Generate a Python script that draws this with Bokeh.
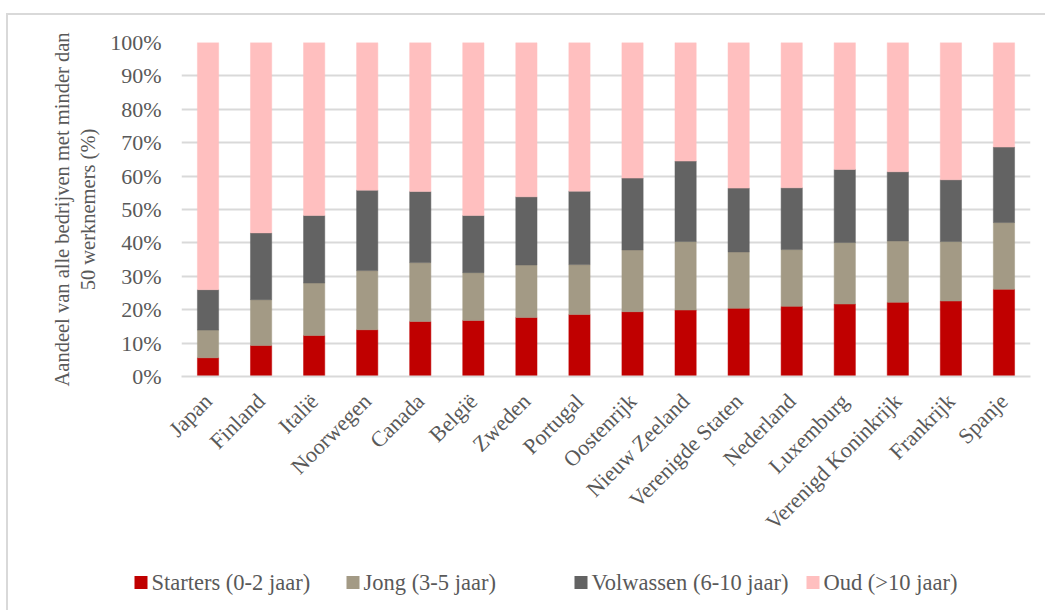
import math
from bokeh.plotting import figure
from bokeh.models import (ColumnDataSource, FactorRange, Range1d, PrintfTickFormatter, FixedTicker)
from bokeh.core.properties import value
from bokeh.embed import file_html
from bokeh.resources import INLINE

countries = ["Japan", "Finland", "Italië", "Noorwegen", "Canada", "België", "Zweden",
             "Portugal", "Oostenrijk", "Nieuw Zeeland", "Verenigde Staten", "Nederland",
             "Luxemburg", "Verenigd Koninkrijk", "Frankrijk", "Spanje"]
starters = [5.6, 9.3, 12.3, 14.0, 16.5, 16.8, 17.7, 18.6, 19.4, 19.9, 20.4, 21.0, 21.7, 22.2, 22.6, 26.1]
jong = [8.3, 13.7, 15.7, 17.7, 17.6, 14.3, 15.7, 14.9, 18.5, 20.5, 16.9, 17.0, 18.4, 18.4, 17.8, 20.0]
volwassen = [12.1, 20.0, 20.2, 24.1, 21.3, 17.1, 20.4, 22.0, 21.5, 24.1, 19.1, 18.5, 21.9, 20.7, 18.5, 22.6]
oud = [round(100 - s - j - v, 1) for s, j, v in zip(starters, jong, volwassen)]

series = ["starters", "jong", "volwassen", "oud"]
labels = ["Starters (0-2 jaar)", "Jong (3-5 jaar)", "Volwassen (6-10 jaar)", "Oud (>10 jaar)"]
colors = ["#C00000", "#A39A85", "#636363", "#FFBFBF"]

source = ColumnDataSource(dict(country=countries, starters=starters, jong=jong,
                               volwassen=volwassen, oud=oud))

FONT = "Liberation Serif"
TXT = "#595959"
BORDER = "2px solid #d9d9d9"

p = figure(x_range=FactorRange(factors=countries), y_range=Range1d(0, 100),
           width=1039, height=537, output_backend="svg", toolbar_location=None,
           min_border_left=173, min_border_right=17, min_border_top=27, min_border_bottom=176)
p.styles = {"margin-left": "6px", "margin-top": "13px", "border-left": BORDER, "border-top": BORDER}
p.outline_line_color = None
p.background_fill_color = "white"

renderers = p.vbar_stack(series, x="country", width=0.4, color=colors, line_color=colors,
                         line_width=0.5, source=source)

p.xgrid.grid_line_color = None
p.ygrid.grid_line_color = "#d9d9d9"
p.ygrid.grid_line_width = 2
p.yaxis.ticker = FixedTicker(ticks=list(range(0, 101, 10)))
p.yaxis.formatter = PrintfTickFormatter(format="%d%%")
p.yaxis.axis_line_color = None
p.yaxis.major_tick_line_color = None
p.yaxis.minor_tick_line_color = None
p.yaxis.major_label_standoff = 14
p.yaxis.axis_label = "Aandeel van alle bedrijven met minder dan\n50 werknemers (%)"
p.yaxis.axis_label_text_font = FONT
p.yaxis.axis_label_text_font_style = "normal"
p.yaxis.axis_label_text_font_size = "20.5px"
p.yaxis.axis_label_text_color = TXT
p.yaxis.axis_label_standoff = 8

p.xaxis.axis_line_color = "#d9d9d9"
p.xaxis.axis_line_width = 2
p.xaxis.major_tick_line_color = None
p.xaxis.minor_tick_line_color = None
p.xaxis.major_label_orientation = math.pi / 4
p.xaxis.major_label_standoff = 15

for ax in (p.xaxis, p.yaxis):
    ax.major_label_text_font = FONT
    ax.major_label_text_font_size = "22px"
    ax.major_label_text_color = TXT

# legend strip below the chart (pixel-like coordinates of the strip)
LEG_W, LEG_H = 1039, 60
legend_glyph_x = [132.5, 344.5, 572.5, 804.5]   # centres of legend squares in the strip
legend_y = 28

lg = figure(x_range=Range1d(0, LEG_W), y_range=Range1d(0, LEG_H), width=LEG_W, height=LEG_H,
            output_backend="svg", toolbar_location=None,
            min_border_left=0, min_border_right=0, min_border_top=0, min_border_bottom=0)
lg.styles = {"margin-left": "6px", "border-left": BORDER}
lg.axis.visible = False
lg.grid.visible = False
lg.outline_line_color = None
leg_src = ColumnDataSource(dict(x=legend_glyph_x, tx=[gx + 10.5 for gx in legend_glyph_x],
                                y=[legend_y] * 4, label=labels, color=colors))
lg.rect(x="x", y="y", width=13, height=13, width_units="screen", height_units="screen",
        fill_color="color", line_color=None, source=leg_src)
lg.text(x="tx", y="y", text="label", text_font=value(FONT), text_font_size="22.5px",
        text_color=TXT, text_baseline="middle", text_align="left", source=leg_src)

open("out.html", "w").write(file_html([p, lg], INLINE))
